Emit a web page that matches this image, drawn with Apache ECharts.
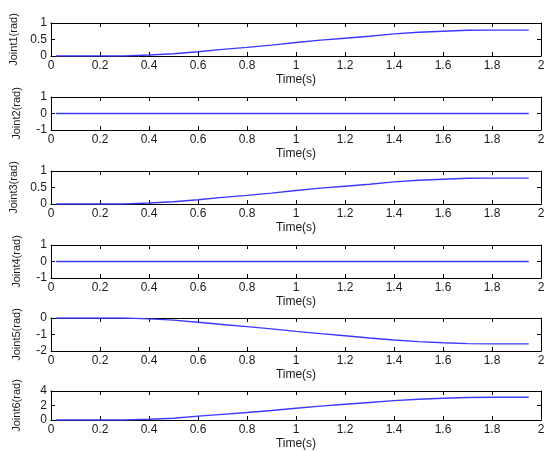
<!DOCTYPE html>
<html><head><meta charset="utf-8">
<script src="https://cdn.jsdelivr.net/npm/echarts@6/dist/echarts.min.js"></script>
<style>html,body{margin:0;padding:0;background:#fff}#c{width:549px;height:451px}</style>
</head><body><div id="c"></div>
<script>
const time = [0.02,0.1,0.2,0.3,0.4,0.5,0.6,0.7,0.8,0.9,1.0,1.1,1.2,1.3,1.4,1.5,1.6,1.7,1.8,1.9,1.95];
const joint1 = [0,0,0,0,0.03,0.07,0.13,0.20,0.26,0.33,0.41,0.48,0.54,0.60,0.67,0.72,0.75,0.78,0.785,0.785,0.785];
const joint2 = [0,0,0,0,0,0,0,0,0,0,0,0,0,0,0,0,0,0,0,0,0];
const joint3 = [0,0,0,0,0.03,0.07,0.13,0.20,0.26,0.33,0.41,0.48,0.54,0.60,0.67,0.72,0.75,0.78,0.785,0.785,0.785];
const joint4 = [0,0,0,0,0,0,0,0,0,0,0,0,0,0,0,0,0,0,0,0,0];
const joint5 = [0,0,0,0,-0.05,-0.13,-0.26,-0.39,-0.52,-0.66,-0.81,-0.95,-1.08,-1.21,-1.33,-1.43,-1.50,-1.55,-1.57,-1.57,-1.57];
const joint6 = [0,0,0,0,0.1,0.25,0.53,0.78,1.04,1.32,1.63,1.91,2.17,2.42,2.67,2.86,3.01,3.11,3.14,3.14,3.14];
const names = ['Joint1(rad)','Joint2(rad)','Joint3(rad)','Joint4(rad)','Joint5(rad)','Joint6(rad)'];
const yRanges = [[0,1,0.5],[-1,1,1],[0,1,0.5],[-1,1,1],[-2,0,1],[0,4,2]];
const xLabel = 'Time(s)';
const xMin = 0, xMax = 2, xStep = 0.2;
const series = [joint1,joint2,joint3,joint4,joint5,joint6];

const font = 'Liberation Sans, Arial, sans-serif';
const tops = [23,97,171,245,318,391];
const grid=[],xAxis=[],yAxis=[],ser=[];
const line={show:true,onZero:false,lineStyle:{color:'#000',width:1}};
const tick={show:true,inside:true,length:4,lineStyle:{color:'#000',width:1}};
for(let i=0;i<6;i++){
  grid.push({left:51,right:8,top:tops[i],height:33,containLabel:false});
  xAxis.push({type:'value',gridIndex:i,min:xMin,max:xMax,interval:xStep,position:'bottom',
    axisLine:line,axisTick:tick,splitLine:{show:false},
    axisLabel:{color:'#1a1a1a',fontFamily:font,fontSize:12,margin:4,formatter:v=>String(+v.toFixed(1))},
    name:xLabel,nameLocation:'middle',nameGap:18,nameTextStyle:{color:'#1a1a1a',fontFamily:font,fontSize:12}});
  xAxis.push({type:'value',gridIndex:i,min:xMin,max:xMax,interval:xStep,position:'top',
    axisLine:line,axisTick:tick,axisLabel:{show:false},splitLine:{show:false}});
  const r=yRanges[i];
  yAxis.push({type:'value',gridIndex:i,min:r[0],max:r[1],interval:r[2],position:'left',
    axisLine:line,axisTick:tick,splitLine:{show:false},
    axisLabel:{color:'#1a1a1a',fontFamily:font,fontSize:12,margin:4},
    name:names[i],nameLocation:'middle',nameGap:29,nameRotate:90,nameTextStyle:{color:'#1a1a1a',fontFamily:font,fontSize:11}});
  yAxis.push({type:'value',gridIndex:i,min:r[0],max:r[1],interval:r[2],position:'right',
    axisLine:line,axisTick:tick,axisLabel:{show:false},splitLine:{show:false}});
  ser.push({type:'line',xAxisIndex:2*i,yAxisIndex:2*i,data:time.map((t,k)=>[t,series[i][k]]),
    showSymbol:false,symbol:'none',z:3,lineStyle:{color:'#3a3aff',width:1.4},animation:false,clip:true});
}
const chart=echarts.init(document.getElementById('c'));
chart.setOption({backgroundColor:'#fff',animation:false,grid,xAxis,yAxis,series:ser});
</script></body></html>
